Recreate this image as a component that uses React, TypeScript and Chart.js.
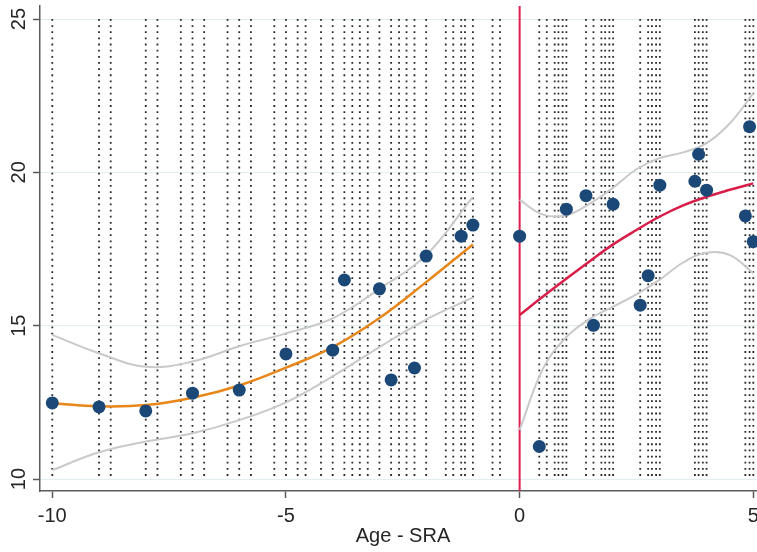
import React, { useEffect, useRef } from "react";
import { Chart, registerables } from "chart.js";

Chart.register(...registerables);

// ---- data ----
const xTicks = [-10, -5, 0, 5];
const xTickLabels = ["-10", "-5", "0", "5"];
const yTicks = [10, 15, 20, 25];
const yTickLabels = ["10", "15", "20", "25"];
const xTitle = "Age - SRA";

const X_MIN = -10.263;
const X_MAX = 5.079;
const Y_MIN = 9.609;
const Y_MAX = 25.424;

// ages of the dotted vertical reference columns
const dottedAges = [
  -10, -9, -8.75, -8, -7.75, -7.25, -7, -6.75, -6.25, -6, -5.75, -5.25, -5,
  -4.75, -4.58, -4.25, -4, -3.75, -3.58, -3.42, -3.25, -3, -2.75, -2.58, -2.42,
  -2.25, -2, -1.58, -1.42, -1.25, -1.17, -1, -0.58, -0.42,
  0.42, 0.58, 0.75, 0.83, 0.92, 1, 1.42, 1.58, 1.75, 1.83, 1.92, 2, 2.58, 2.75,
  2.83, 2.92, 3, 3.75, 3.83, 3.92, 4, 4.83, 4.92, 5,
];

// scatter points
const pointX = [
  -10, -9, -8, -7, -6, -5, -4, -3.75, -3, -2.75, -2.25, -2, -1.25, -1,
  0, 0.42, 1, 1.42, 2, 1.58, 3, 2.58, 2.75, 3.75, 3.83, 4, 4.92, 4.83, 5,
];
const pointY = [
  12.48, 12.35, 12.22, 12.8, 12.9, 14.08, 14.2, 16.49, 16.2, 13.23, 13.62,
  17.27, 17.92, 18.28,
  17.92, 11.06, 18.8, 19.24, 18.96, 15.01, 19.58, 15.67, 16.63, 19.71, 20.59,
  19.42, 21.49, 18.58, 17.74,
];

// left fit (before SRA)
const leftX = [-10, -9, -8, -7, -6, -5, -4, -3, -2, -1];
const leftFit = [12.47, 12.37, 12.41, 12.65, 13.05, 13.63, 14.3, 15.25, 16.42, 17.65];
const leftUpper = [14.7, 14.1, 13.66, 13.83, 14.33, 14.75, 15.24, 16.2, 17.3, 19.2];
const leftLower = [10.29, 10.87, 11.22, 11.49, 11.92, 12.5, 13.35, 14.3, 15.2, 15.92];

// right fit (after SRA)
const rightX = [0, 0.5, 1, 1.5, 2, 2.5, 3, 3.5, 4, 4.5, 5];
const rightFit = [15.35, 15.95, 16.53, 17.1, 17.65, 18.12, 18.56, 18.92, 19.2, 19.43, 19.64];
const rightUpper = [19.1, 18.62, 18.6, 18.98, 19.5, 20.1, 20.47, 20.65, 20.95, 21.6, 22.58];
const rightLower = [11.6, 13.6, 14.63, 15.22, 15.62, 16.02, 16.5, 17.06, 17.38, 17.3, 16.71];

const FONT = '20px "Liberation Sans", Arial, Helvetica, sans-serif';
const TEXT_COLOR = "#262626";

const zip = (xs: number[], ys: number[]) => xs.map((x, i) => ({ x, y: ys[i] }));

const textPlugin = {
  id: "statText",
  afterDraw(chart: any) {
    const { ctx, scales } = chart;
    const xs = scales.x;
    const ys = scales.y;
    ctx.save();
    ctx.font = FONT;
    ctx.fillStyle = TEXT_COLOR;
    ctx.textAlign = "center";
    ctx.textBaseline = "alphabetic";
    xTicks.forEach((v, i) => {
      ctx.fillText(xTickLabels[i], xs.getPixelForValue(v), 522);
    });
    yTicks.forEach((v, i) => {
      const py = ys.getPixelForValue(v);
      ctx.save();
      ctx.translate(24.5, py);
      ctx.rotate(-Math.PI / 2);
      ctx.fillText(yTickLabels[i], 0, 0);
      ctx.restore();
    });
    ctx.fillText(xTitle, 403, 542);
    ctx.restore();
  },
};

export default function App() {
  const ref = useRef<HTMLCanvasElement | null>(null);

  useEffect(() => {
    document.body.style.margin = "0";
    const canvas = ref.current;
    if (!canvas) return;

    const dottedSets = dottedAges.map((a) => ({
      type: "line" as const,
      data: [
        { x: a, y: 25 },
        { x: a, y: 10 },
      ],
      borderColor: "#2a2a2a",
      borderWidth: 1.8,
      borderDash: [1.8, 4.35],
      pointRadius: 0,
      fill: false,
      order: 10,
    }));

    const chart = new Chart(canvas, {
      type: "scatter",
      data: {
        datasets: [
          {
            type: "scatter" as const,
            data: zip(pointX, pointY),
            backgroundColor: "#1b4877",
            borderColor: "#1b4877",
            borderWidth: 0,
            pointRadius: 6.5,
            order: 0,
          },
          {
            type: "line" as const,
            data: zip(leftX, leftFit),
            borderColor: "#e8861a",
            borderWidth: 2.5,
            pointRadius: 0,
            tension: 0.4,
            fill: false,
            order: 2,
          },
          {
            type: "line" as const,
            data: zip(rightX, rightFit),
            borderColor: "#d81e48",
            borderWidth: 2.5,
            pointRadius: 0,
            tension: 0.4,
            fill: false,
            order: 2,
          },
          ...[
            zip(leftX, leftUpper),
            zip(leftX, leftLower),
            zip(rightX, rightUpper),
            zip(rightX, rightLower),
          ].map((d) => ({
            type: "line" as const,
            data: d,
            borderColor: "#c9c9c9",
            borderWidth: 2,
            pointRadius: 0,
            tension: 0.4,
            fill: false,
            order: 3,
          })),
          {
            type: "line" as const,
            data: [
              { x: 0, y: Y_MAX },
              { x: 0, y: Y_MIN },
            ],
            borderColor: "#dc1f50",
            borderWidth: 2,
            pointRadius: 0,
            fill: false,
            order: 4,
          },
          ...dottedSets,
        ] as any,
      },
      options: {
        animation: false,
        responsive: false,
        devicePixelRatio: 1,
        layout: { autoPadding: false, padding: { top: 6, left: 0, right: 0, bottom: 0 } },
        plugins: {
          legend: { display: false },
          tooltip: { enabled: false },
        },
        scales: {
          x: {
            type: "linear",
            min: X_MIN,
            max: X_MAX,
            afterBuildTicks: (s: any) => {
              s.ticks = xTicks.map((v) => ({ value: v }));
            },
            afterFit: (s: any) => {
              s.height = 61;
              s.paddingLeft = 0;
              s.paddingRight = 0;
            },
            ticks: { display: false },
            grid: {
              drawOnChartArea: false,
              drawTicks: true,
              tickLength: 7,
              tickColor: "#5a5a5a",
              tickWidth: 1.5,
              color: "#5a5a5a",
            },
            border: { display: true, color: "#5a5a5a", width: 1.5 },
          },
          y: {
            type: "linear",
            min: Y_MIN,
            max: Y_MAX,
            afterBuildTicks: (s: any) => {
              s.ticks = yTicks.map((v) => ({ value: v }));
            },
            afterFit: (s: any) => {
              s.width = 40;
              s.paddingTop = 0;
              s.paddingBottom = 0;
            },
            ticks: { display: false },
            grid: {
              drawOnChartArea: true,
              drawTicks: true,
              tickLength: 7,
              color: "#e1eef1",
              lineWidth: 1,
              tickColor: "#5a5a5a",
              tickWidth: 1.5,
            },
            border: { display: true, color: "#5a5a5a", width: 1.5 },
          },
        },
      } as any,
      plugins: [textPlugin],
    });

    return () => chart.destroy();
  }, []);

  return (
    <div style={{ position: "absolute", left: 0, top: 0, width: 757, height: 552, background: "#fff" }}>
      <canvas ref={ref} width={757} height={552} style={{ display: "block" }} />
    </div>
  );
}
